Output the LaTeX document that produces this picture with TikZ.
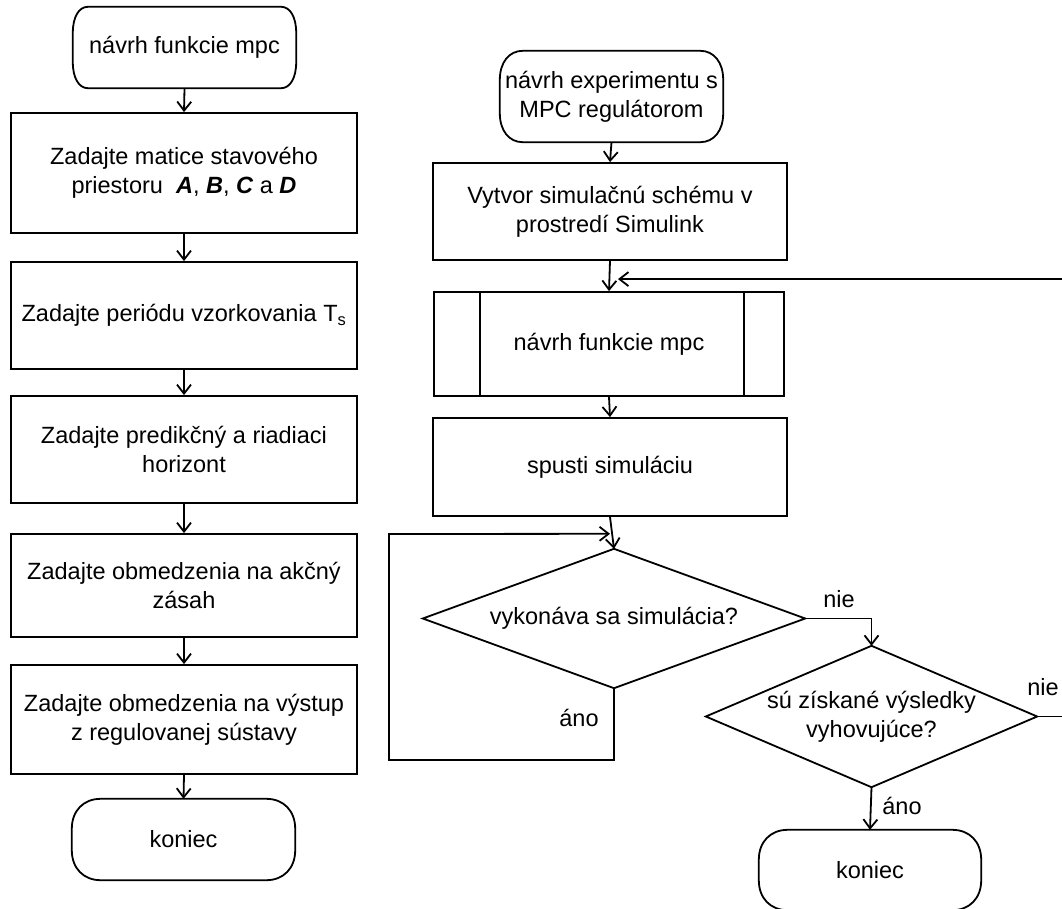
\documentclass[tikz,border=0pt]{standalone}
\usepackage{fontspec}
\setmainfont{Liberation Sans}
\usetikzlibrary{arrows.meta,calc}
\newcommand\myfs{\fontsize{23.5pt}{29pt}\selectfont}
\newcommand\termline[3]{%
 \draw[ln] ($(#1.north west)+(#2,0)$) -- ($(#1.north east)+(-#2,0)$)
  .. controls ($(#1.north east)+(-0.4*#2,0)$) and ($(#1.north east)+(0,0.4*#3)$) .. ($(#1.north east)+(0,#3)$)
  -- ($(#1.south east)+(0,-#3)$)
  .. controls ($(#1.south east)+(0,-0.4*#3)$) and ($(#1.south east)+(-0.4*#2,0)$) .. ($(#1.south east)+(-#2,0)$)
  -- ($(#1.south west)+(#2,0)$)
  .. controls ($(#1.south west)+(0.4*#2,0)$) and ($(#1.south west)+(0,-0.4*#3)$) .. ($(#1.south west)+(0,-#3)$)
  -- ($(#1.north west)+(0,#3)$)
  .. controls ($(#1.north west)+(0,0.4*#3)$) and ($(#1.north west)+(0.4*#2,0)$) .. cycle;}
\tikzset{
 ln/.style={line width=1.8pt, line join=miter},
 arr/.style={line width=1.8pt, -{Straight Barb[length=9pt,width=14pt,line width=1.8pt]}},
 shp/.style={rectangle, inner sep=0pt, align=center, font=\myfs},
 box/.style={shp, draw, line width=1.8pt},
 lab/.style={inner sep=0pt, font=\myfs}
}
\begin{document}
\begin{tikzpicture}[x=1pt,y=-1pt]
\useasboundingbox (0,0) rectangle (1062,909);
\clip (0,0) rectangle (1062,909);
% ---------- left column ----------
\node[shp, minimum width=223pt, minimum height=81pt] (s1) at (184.5,47.5) {návrh funkcie mpc};
\termline{s1}{15}{26}
\node[box, minimum width=346pt, minimum height=120pt] (b1) at (184,173) {Zadajte matice stavového\\priestoru\ \ \textbf{\textit{A}}, \textbf{\textit{B}}, \textbf{\textit{C}} a \textbf{\textit{D}}};
\node[box, minimum width=346pt, minimum height=107pt] (b2) at (184,315.5) {Zadajte periódu vzorkovania T\textsubscript{s}};
\node[box, minimum width=346pt, minimum height=107pt] (b3) at (184,449.5) {Zadajte predikčný a riadiaci\\horizont};
\node[box, minimum width=346pt, minimum height=103pt] (b4) at (184,585.5) {Zadajte obmedzenia na akčný\\zásah};
\node[box, minimum width=346pt, minimum height=109pt] (b5) at (184,719.5) {Zadajte obmedzenia na výstup\\z regulovanej sústavy};
\node[shp, minimum width=223pt, minimum height=81pt] (e1) at (183.5,839.5) {koniec};
\termline{e1}{29}{30}
\draw[arr] (s1.south) -- (b1.north);
\draw[arr] (b1.south) -- (b2.north);
\draw[arr] (b2.south) -- (b3.north);
\draw[arr] (b3.south) -- (b4.north);
\draw[arr] (b4.south) -- (b5.north);
\draw[arr] (b5.south) -- (e1.north);
% ---------- right column ----------
\node[shp, minimum width=223pt, minimum height=91pt] (s2) at (611.5,96.5) {návrh experimentu s\\MPC regulátorom};
\termline{s2}{23}{29}
\node[box, minimum width=354pt, minimum height=97pt] (b6) at (610,211.5) {Vytvor simulačnú schému v\\prostredí Simulink};
\node[box, minimum width=350pt, minimum height=104pt] (b7) at (609,344) {návrh funkcie mpc};
\draw[ln] ($(b7.north west)+(47,0)$) -- ($(b7.south west)+(47,0)$);
\draw[ln] ($(b7.north east)+(-41,0)$) -- ($(b7.south east)+(-41,0)$);
\node[box, minimum width=354pt, minimum height=98pt] (b8) at (610,467) {spusti simuláciu};
\node[shp, minimum width=382pt, minimum height=139pt] (d1) at (614,618.5) {vykonáva sa simulácia?};
\draw[ln] (d1.north) -- (d1.east) -- (d1.south) -- (d1.west) -- cycle;
\node[shp, minimum width=331pt, minimum height=141pt] (d2) at (871.5,716.5) {sú získané výsledky\\vyhovujúce?};
\draw[ln] (d2.north) -- (d2.east) -- (d2.south) -- (d2.west) -- cycle;
\node[shp, minimum width=222pt, minimum height=80pt] (e2) at (870,870) {koniec};
\termline{e2}{29}{30}
\coordinate (fbR) at (1075,280);
\coordinate (fbT) at ($(b7.north)+(9,-12)$);
\coordinate (lpB) at (389,760);
\coordinate (lpT) at (389,534);
\draw[arr] (s2.south) -- (b6.north);
\draw[arr] (b6.south) -- (b7.north);
\draw[arr] (b7.south) -- (b8.north);
\draw[arr] (b8.south) -- (d1.north);
\draw[arr] (d1.south) |- (lpB) -- (lpT) -- ($(d1.north)+(-4,-15)$);
\draw[arr] (d1.east) -| (d2.north);
\draw[arr] (d2.south) -- (e2.north);
\draw[arr] (d2.east) -| (fbR) -- (fbR |- fbT) -- (fbT);
\node[lab] (l1) at (839,599) {nie};
\node[lab] (l2) at (579,718) {áno};
\node[lab] (l3) at (1043,687) {nie};
\node[lab] (l4) at (902,806) {áno};
\end{tikzpicture}
\end{document}
